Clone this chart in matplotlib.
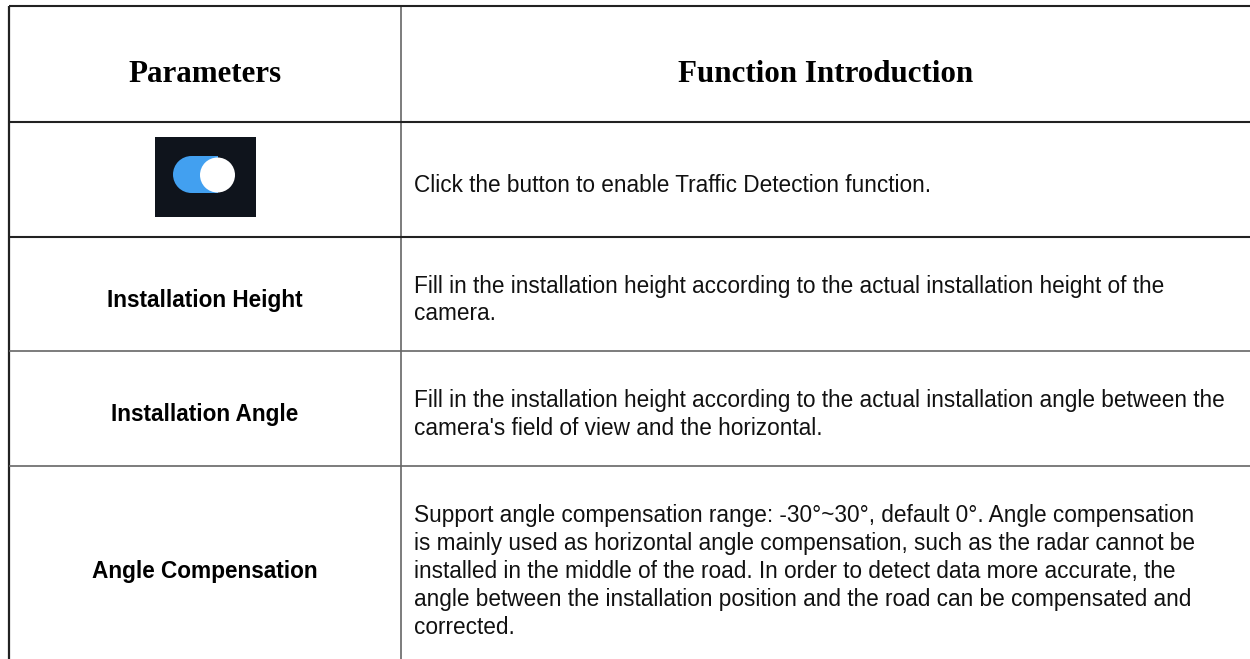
import matplotlib.pyplot as plt
from matplotlib.patches import Rectangle, Circle

# table content
headers = ["Parameters", "Function Introduction"]
parameters = ["", "Installation Height", "Installation Angle", "Angle Compensation"]
descriptions = [
    ["Click the button to enable Traffic Detection function."],
    ["Fill in the installation height according to the actual installation height of the",
     "camera."],
    ["Fill in the installation height according to the actual installation angle between the",
     "camera's field of view and the horizontal."],
    ["Support angle compensation range: -30\u00b0~30\u00b0, default 0\u00b0. Angle compensation",
     "is mainly used as horizontal angle compensation, such as the radar cannot be",
     "installed in the middle of the road. In order to detect data more accurate, the",
     "angle between the installation position and the road can be compensated and",
     "corrected."],
]

# layout in pixels
W, H = 1250, 659
left, mid, right = 9, 401, 1250
row_edges = [6, 122, 237, 351, 466, 665]
line_h = 28

fig = plt.figure(figsize=(W / 100, H / 100), dpi=100)
ax = fig.add_axes([0, 0, 1, 1])
ax.set_xlim(0, W)
ax.set_ylim(H, 0)
ax.axis('off')

dark = '#222222'
grey = '#666666'

# borders
ax.plot([left, left], [row_edges[0], H], color=dark, lw=1.6, solid_capstyle='butt')
ax.plot([mid, mid], [row_edges[0], H], color=grey, lw=1.2, solid_capstyle='butt')
for i, y in enumerate(row_edges[:-1]):
    c = dark if i < 3 else grey
    ax.plot([left, right], [y, y], color=c, lw=1.5 if i < 3 else 1.2, solid_capstyle='butt')

# header
ax.text((left + mid) / 2, 82, headers[0], ha='center', va='baseline',
        fontfamily='Liberation Serif', fontweight='bold', fontsize=22.3, color='black')
ax.text((mid + right) / 2, 82, headers[1], ha='center', va='baseline',
        fontfamily='Liberation Serif', fontweight='bold', fontsize=22.3, color='black')

# body rows
for r in range(len(parameters)):
    cy = (row_edges[r + 1] + row_edges[r + 2]) / 2
    if parameters[r]:
        ax.text((left + mid) / 2, cy + 12.5, parameters[r], ha='center', va='baseline',
                fontfamily='Liberation Sans', fontweight='bold', fontsize=16.3, color='black')
    lines = descriptions[r]
    y0 = cy + 12.5 - (len(lines) - 1) * line_h / 2
    for k, ln in enumerate(lines):
        ax.text(414, y0 + k * line_h, ln, ha='left', va='baseline',
                fontfamily='Liberation Sans', fontsize=16.3, color='#111111')

# toggle icon in the first body row
ax.add_patch(Rectangle((155, 137), 101, 80, color='#0f141c', lw=0))
ax.add_patch(Circle((191.5, 174.5), 18.5, color='#42a0f0', lw=0))
ax.add_patch(Rectangle((191.5, 156), 26, 37, color='#42a0f0', lw=0))
ax.add_patch(Circle((217.5, 175), 17.5, color='white', lw=0))

fig.savefig('out.png', dpi=100)
